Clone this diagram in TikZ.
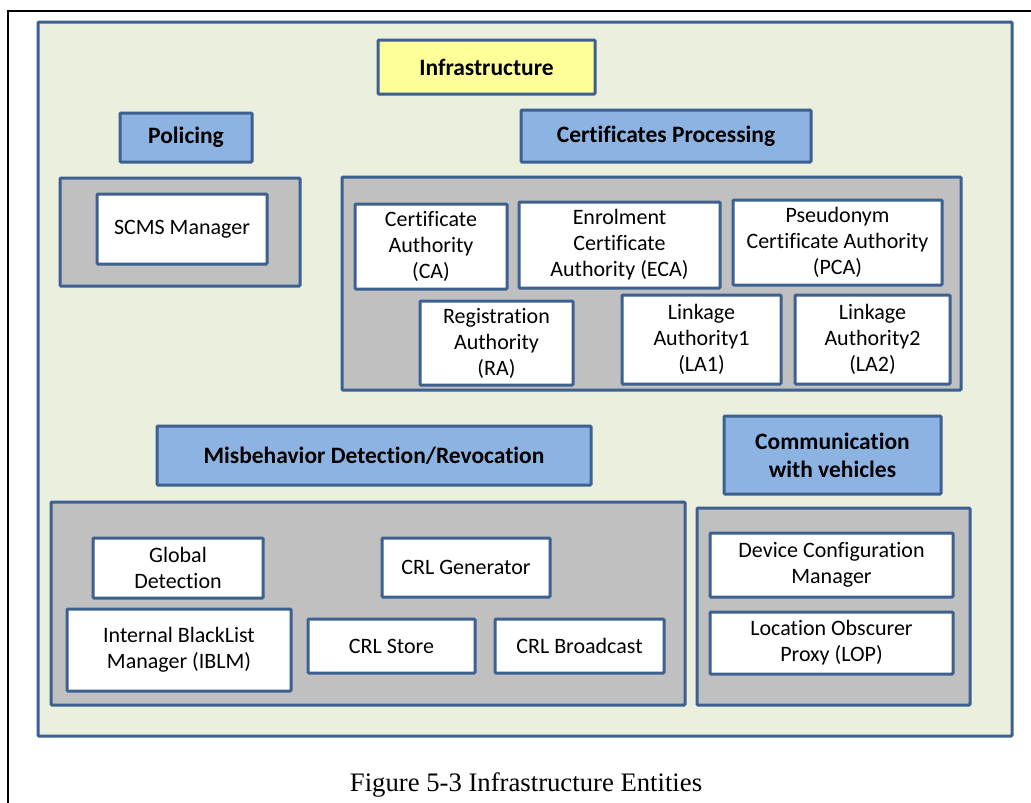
\documentclass[tikz,border=0pt]{standalone}
\usepackage{fontspec}
\setmainfont[Ligatures=CommonOff]{Carlito}
\newfontfamily\capfont{Liberation Serif}
\definecolor{bord}{HTML}{3C6090}
\definecolor{bgg}{HTML}{EBEFDE}
\definecolor{grayf}{HTML}{C0C0C0}
\definecolor{hdrb}{HTML}{8DB3E2}
\definecolor{hdry}{HTML}{FFFF99}
\tikzset{
  base/.style={draw=bord, line width=3pt, rounded corners=1pt, align=center, inner sep=0pt},
  hdr/.style={base, fill=hdrb, font=\fontsize{23.5}{28}\selectfont\bfseries},
  yhdr/.style={base, fill=hdry, font=\fontsize{23.5}{28}\selectfont\bfseries},
  grp/.style={base, fill=grayf},
  wbox/.style={base, fill=white, font=\fontsize{22}{26}\selectfont},
}
\begin{document}
\begin{tikzpicture}[x=1pt,y=-1pt]
\useasboundingbox (0,0) rectangle (1031,803);
\fill[white] (0,0) rectangle (1031,803);
\coordinate (fl) at (8,803);
\coordinate (ft) at (8,11);
\coordinate (fr) at (1031,11);
\draw[line width=1.5pt] (fl) -- (ft) -- (fr);
\node[base, fill=bgg, minimum width=974pt, minimum height=714pt] (big) at (525,379) {};
\node[yhdr, minimum width=217pt, minimum height=54pt] (infra) at (486.5,67) {Infrastructure};
% Policing
\node[hdr, minimum width=132pt, minimum height=49pt] (pol) at (186,137.5) {Policing};
\node[grp, minimum width=240pt, minimum height=108pt] (polg) at (180,232) {};
\node[wbox, minimum width=170pt, minimum height=70pt] (scms) at (182,229) {SCMS Manager};
% Certificates
\node[hdr, minimum width=290pt, minimum height=52pt] (cert) at (666,136) {Certificates Processing};
\node[grp, minimum width=619pt, minimum height=213pt] (certg) at (651.5,283.5) {};
\node[wbox, minimum width=152pt, minimum height=85pt] (ca) at (431,246.5) {Certificate\\Authority\\(CA)};
\node[wbox, minimum width=201pt, minimum height=86pt] (eca) at (619.5,245) {Enrolment\\Certificate\\Authority (ECA)};
\node[wbox, minimum width=209pt, minimum height=85pt] (pca) at (837.5,242.5) {Pseudonym\\Certificate Authority\\(PCA)};
\node[wbox, minimum width=153pt, minimum height=84pt] (ra) at (496.5,343) {Registration\\Authority\\(RA)};
\node[wbox, minimum width=159pt, minimum height=89pt] (la1) at (701.5,339.5) {Linkage\\Authority1\\(LA1)};
\node[wbox, minimum width=155pt, minimum height=89pt] (la2) at (872.5,339.5) {Linkage\\Authority2\\(LA2)};
% Misbehavior
\node[hdr, minimum width=434pt, minimum height=59pt] (mis) at (374,455.5) {Misbehavior Detection/Revocation};
\node[grp, minimum width=634pt, minimum height=203pt] (misg) at (368,603.5) {};
\node[wbox, minimum width=170pt, minimum height=60pt] (gd) at (178,568) {Global\\Detection};
\node[wbox, minimum width=168pt, minimum height=59pt] (crlg) at (466,567.5) {CRL Generator};
\node[wbox, minimum width=224pt, minimum height=82pt] (iblm) at (179,650) {Internal BlackList\\Manager (IBLM)};
\node[wbox, minimum width=167pt, minimum height=54pt] (crls) at (391.5,646) {CRL Store};
\node[wbox, minimum width=169pt, minimum height=54pt] (crlb) at (579.5,646) {CRL Broadcast};
% Communication
\node[hdr, minimum width=217pt, minimum height=78pt] (comm) at (832.5,455) {Communication\\with vehicles};
\node[grp, minimum width=273pt, minimum height=197pt] (commg) at (833.5,606.5) {};
\node[wbox, minimum width=243pt, minimum height=64pt] (dcm) at (831.5,565) {Device Configuration\\Manager};
\node[wbox, minimum width=243pt, minimum height=62pt] (lop) at (831.5,643) {Location Obscurer\\Proxy (LOP)};
% caption
\node[font=\capfont\fontsize{26.7}{30}\selectfont, inner sep=0pt] (cap) at (526,785) {Figure 5-3 Infrastructure Entities};
\end{tikzpicture}
\end{document}
